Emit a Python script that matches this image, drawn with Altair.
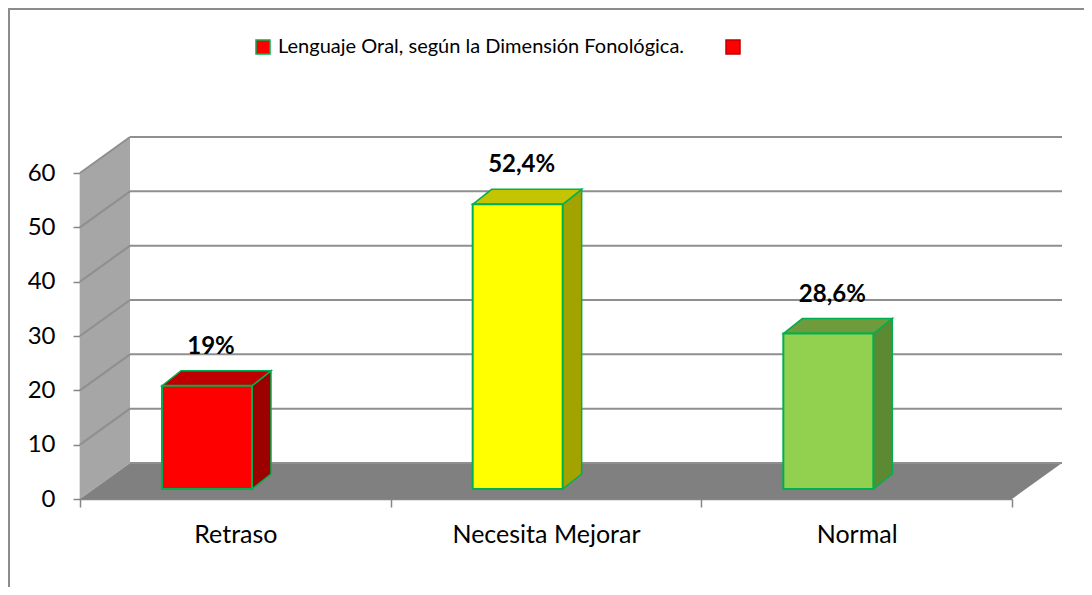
import altair as alt
import pandas as pd

# ---------------- data ----------------
categorias = ["Retraso", "Necesita Mejorar", "Normal"]
valores = [19, 52.4, 28.6]
etiquetas = ["19%", "52,4%", "28,6%"]
color_frente = ["#ff0000", "#ffff00", "#92d050"]
color_lado = ["#9c0000", "#a3a300", "#5c8a32"]
color_tapa = ["#c00000", "#c4c400", "#6e9c3c"]
ticks_y = [0, 10, 20, 30, 40, 50, 60]
serie = ["Lenguaje Oral, según la Dimensión Fonológica.", " "]
serie_relleno = ["#ff0000", "#ff0000"]
serie_borde = ["#00b050", "#c00000"]

# ---------------- layout constants ----------------
W, H = 932, 326
XMAX, YMAX = len(categorias), ticks_y[-1]
XU = W / XMAX          # px per x unit
YU = H / YMAX          # px per y unit
WALL_DX = 50 / XU      # depth of the 3D box
WALL_DY = 36 / YU
BAR_LEFT = 82 / XU     # bar front face left, inside its band
BAR_W = 90 / XU
BAR_LIFT = 10 / YU
BAR_DX = 19 / XU
BAR_DY = 15 / YU
FONT = "Lato"
EDGE = "#00b050"
GRID = "#8f8f8f"

xs = alt.Scale(domain=[0, XMAX], nice=False, zero=False)
ys = alt.Scale(domain=[0, YMAX], nice=False, zero=False)

x_axis = alt.Axis(
    values=[0, 0.5, 1, 1.5, 2, 2.5, 3],
    labelExpr="datum.value == 0.5 ? '%s' : datum.value == 1.5 ? '%s' : datum.value == 2.5 ? '%s' : ''"
    % tuple(categorias),
    grid=False, title=None, domainColor="#868686", domainWidth=1.5,
    tickColor="#868686", tickWidth=1.5, tickSize=8,
    tickOpacity={"condition": {"test": "datum.value % 1 != 0", "value": 0}, "value": 1},
    labelFont=FONT, labelFontSize=25, labelColor="black", labelPadding=15,
    labelOverlap=False, labelFlush=False, labelLimit=0,
)
y_axis = alt.Axis(
    values=ticks_y, grid=False, title=None, domainColor="#868686", domainWidth=1.5,
    tickColor="#868686", tickWidth=1.5, tickSize=7,
    labelFont=FONT, labelFontSize=24, labelColor="black", labelPadding=18,
)

# ---------------- tables ----------------
tabla = pd.DataFrame({
    "categoria": categorias, "valor": valores, "etiqueta": etiquetas,
    "frente": color_frente, "lado": color_lado, "tapa": color_tapa,
})
tabla["i"] = range(len(tabla))
tabla["xl"] = tabla["i"] + BAR_LEFT
tabla["xr"] = tabla["xl"] + BAR_W
tabla["yb"] = BAR_LIFT
tabla["yt"] = tabla["valor"] + BAR_LIFT
tabla["xc"] = (tabla["xl"] + tabla["xr"]) / 2

lado_rows, tapa_rows = [], []
for rec in tabla.to_dict("records"):
    c, xl, xr, yb, yt = rec["categoria"], rec["xl"], rec["xr"], rec["yb"], rec["yt"]
    lado_rows += [
        {"categoria": c, "lado": rec["lado"], "x": xr, "y": yt, "y2": yb},
        {"categoria": c, "lado": rec["lado"], "x": xr + BAR_DX, "y": yt + BAR_DY, "y2": yb + BAR_DY},
    ]
    tapa_rows += [
        {"categoria": c, "tapa": rec["tapa"], "x": xl, "y": yt, "y2": yt},
        {"categoria": c, "tapa": rec["tapa"], "x": xl + BAR_DX, "y": yt + BAR_DY, "y2": yt},
        {"categoria": c, "tapa": rec["tapa"], "x": xr, "y": yt + BAR_DY, "y2": yt},
        {"categoria": c, "tapa": rec["tapa"], "x": xr + BAR_DX, "y": yt + BAR_DY, "y2": yt + BAR_DY},
    ]
lado_df = pd.DataFrame(lado_rows)
tapa_df = pd.DataFrame(tapa_rows)

y0, y1 = ticks_y[0], ticks_y[-1]
pared_df = pd.DataFrame({"x": [0, WALL_DX], "y": [y1, y1 + WALL_DY], "y2": [y0, y0 + WALL_DY]})
piso_df = pd.DataFrame({
    "x": [0, WALL_DX, XMAX, XMAX + WALL_DX],
    "y": [y0, y0 + WALL_DY, y0 + WALL_DY, y0 + WALL_DY],
    "y2": [y0, y0, y0, y0 + WALL_DY],
})
grid_df = pd.DataFrame({"v": ticks_y})
grid_df["yb"] = grid_df["v"] + WALL_DY
grid_df["x0"] = WALL_DX
grid_df["x1"] = XMAX + WALL_DX
grid_df["xf"] = 0
diag_df = grid_df[grid_df["v"] > 0]
leyenda_df = pd.DataFrame({"serie": serie})

# ---------------- layers ----------------
marco = alt.Chart(pd.DataFrame({"a": [1]})).mark_rect(
    fill="white", fillOpacity=0, stroke="#8c8c8c", strokeWidth=2
).encode(x=alt.value(-71), x2=alt.value(1300), y=alt.value(-164), y2=alt.value(900))

leg = dict(orient="none", legendX=173, legendY=-136, direction="horizontal",
           title=None, symbolType="square", symbolSize=196,
           symbolStrokeWidth=1.5, labelFont=FONT, labelFontSize=20, labelLimit=0,
           labelColor="black", columnPadding=38, labelOffset=5, padding=0)
leyenda = alt.Chart(leyenda_df).mark_square(size=0, opacity=1).encode(
    x=alt.value(300), y=alt.value(318),
    fill=alt.Fill("serie:N", scale=alt.Scale(domain=serie, range=serie_relleno), legend=alt.Legend(**leg)),
    stroke=alt.Stroke("serie:N", scale=alt.Scale(domain=serie, range=serie_borde), legend=alt.Legend(**leg)),
)

pared = alt.Chart(pared_df).mark_area(color="#a6a6a6", opacity=1).encode(
    x=alt.X("x:Q", scale=xs, axis=x_axis), y=alt.Y("y:Q", scale=ys, axis=y_axis), y2="y2:Q")

piso = alt.Chart(piso_df).mark_area(color="#808080", opacity=1).encode(
    x=alt.X("x:Q", scale=xs, axis=x_axis), y=alt.Y("y:Q", scale=ys, axis=y_axis), y2="y2:Q")

rejilla = alt.Chart(grid_df).mark_rule(color=GRID, strokeWidth=2).encode(
    x=alt.X("x0:Q", scale=xs, axis=x_axis), x2="x1:Q", y=alt.Y("yb:Q", scale=ys, axis=y_axis))

diagonales = alt.Chart(diag_df).mark_rule(color=GRID, strokeWidth=2).encode(
    x=alt.X("xf:Q", scale=xs, axis=x_axis), x2="x0:Q",
    y=alt.Y("v:Q", scale=ys, axis=y_axis), y2="yb:Q")

lado = alt.Chart(lado_df).mark_area(stroke=EDGE, strokeWidth=1.5, opacity=1).encode(
    x=alt.X("x:Q", scale=xs, axis=x_axis), y=alt.Y("y:Q", scale=ys, axis=y_axis), y2="y2:Q",
    color=alt.Color("lado:N", scale=None), detail="categoria:N")

tapa = alt.Chart(tapa_df).mark_area(stroke=EDGE, strokeWidth=1.5, opacity=1).encode(
    x=alt.X("x:Q", scale=xs, axis=x_axis), y=alt.Y("y:Q", scale=ys, axis=y_axis), y2="y2:Q",
    color=alt.Color("tapa:N", scale=None), detail="categoria:N")

frente = alt.Chart(tabla).mark_rect(stroke=EDGE, strokeWidth=2, opacity=1).encode(
    x=alt.X("xl:Q", scale=xs, axis=x_axis), x2="xr:Q",
    y=alt.Y("yb:Q", scale=ys, axis=y_axis), y2="yt:Q",
    color=alt.Color("frente:N", scale=None))

textos = alt.Chart(tabla).mark_text(font=FONT, fontSize=24, fontWeight="bold", color="black",
                                    baseline="middle", dy=-39, dx=4).encode(
    x=alt.X("xc:Q", scale=xs, axis=x_axis), y=alt.Y("yt:Q", scale=ys, axis=y_axis), text="etiqueta:N")

chart = alt.layer(marco, leyenda, pared, piso, rejilla, diagonales, lado, tapa, frente, textos).properties(
    width=W, height=H,
    padding={"left": 72, "top": 165, "right": 72, "bottom": 88},
    autosize="none",
    background="white",
).configure_view(stroke=None)

chart.save("out.html", embed_options={"renderer": "svg", "actions": False})
